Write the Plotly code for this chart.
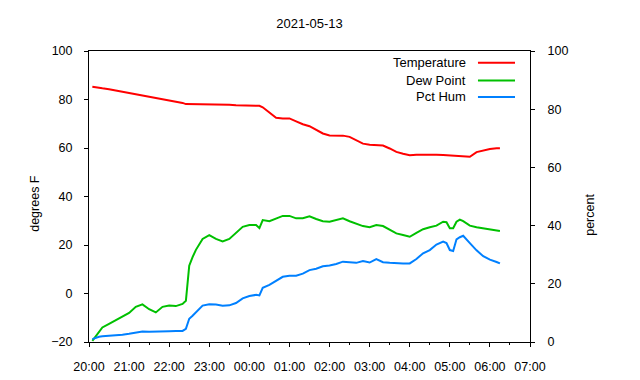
import plotly.graph_objects as go
from datetime import datetime, timedelta

# minutes after 2021-05-13 20:00
minutes = [5, 10, 15, 20, 30, 40, 50, 60, 70, 80, 90, 100, 110, 120, 130, 140, 145, 150, 155, 160,
           170, 180, 190, 200, 210, 220, 230, 240, 250, 255, 260, 270, 280, 290, 300, 310, 320, 330,
           340, 350, 360, 370, 380, 390, 400, 410, 420, 430, 440, 450, 460, 470, 480, 490, 500, 510,
           520, 530, 535, 540, 545, 550, 555, 560, 570, 580, 590, 600, 610, 615]

temperature = [85.3, 85.0, 84.8, 84.6, 84.2, 83.7, 83.2, 82.8, 82.3, 81.8, 81.4, 80.8, 80.3, 79.8,
               79.3, 78.6, 78.1, 78.1, 78.1, 78.1, 78.1, 78.1, 78.1, 78.1, 77.8, 77.6, 77.6, 77.6,
               77.5, 77.4, 76.8, 74.5, 72.5, 72.2, 72.2, 71.0, 69.8, 69.0, 67.5, 66.0, 65.2, 65.1,
               65.1, 64.6, 63.2, 61.8, 61.3, 61.1, 61.0, 59.8, 58.4, 57.6, 57.0, 57.2, 57.3, 57.4,
               57.2, 57.1, 57.0, 57.0, 57.0, 56.8, 56.8, 56.6, 56.4, 58.3, 59.0, 59.6, 59.9, 59.9]

dew_point = [-19.5, -17.5, -15.5, -14.0, -12.5, -11.0, -9.5, -8.0, -5.5, -4.5, -6.5, -7.8, -5.5, -5.0,
             -5.2, -4.3, -3.0, 11.5, 15.0, 18.0, 22.5, 24.1, 22.5, 21.5, 22.5, 25.0, 27.5, 28.2,
             28.2, 27.0, 30.3, 29.8, 30.8, 32.0, 32.0, 31.0, 31.0, 31.8, 30.7, 29.8, 29.6, 30.2,
             31.0, 29.8, 28.7, 27.8, 27.3, 28.2, 27.8, 26.2, 24.8, 24.1, 23.4, 25.0, 26.5, 27.3,
             28.0, 29.6, 29.4, 26.9, 26.9, 29.6, 30.5, 29.8, 28.0, 27.3, 26.8, 26.3, 26.0, 25.8]

pct_hum = [1.0, 1.5, 1.8, 2.0, 2.1, 2.3, 2.5, 2.8, 3.2, 3.6, 3.5, 3.5, 3.6, 3.7, 3.8, 3.8, 4.5, 8.0,
           9.0, 10.2, 12.5, 13.0, 12.9, 12.5, 12.6, 13.4, 15.0, 15.8, 16.2, 16.0, 18.6, 19.6, 21.0,
           22.4, 22.8, 22.8, 23.5, 24.7, 25.2, 26.0, 26.3, 26.8, 27.6, 27.5, 27.2, 27.8, 27.3, 28.5,
           27.4, 27.2, 27.0, 27.0, 27.0, 28.5, 30.5, 31.6, 33.5, 34.5, 34.0, 31.6, 31.3, 35.3, 36.0,
           36.5, 34.0, 31.5, 29.5, 28.3, 27.5, 27.0]

series_names = ["Temperature", "Dew Point", "Pct Hum"]
series_colors = ["#ff0000", "#00c000", "#0080ff"]

start = datetime(2021, 5, 13, 20, 0)
times = [start + timedelta(minutes=m) for m in minutes]

FONT = "Liberation Sans, Arial, sans-serif"

fig = go.Figure()
fig.add_trace(go.Scatter(x=times, y=temperature, mode="lines", name=series_names[0],
                         line=dict(color=series_colors[0], width=2), yaxis="y"))
fig.add_trace(go.Scatter(x=times, y=dew_point, mode="lines", name=series_names[1],
                         line=dict(color=series_colors[1], width=2), yaxis="y"))
fig.add_trace(go.Scatter(x=times, y=pct_hum, mode="lines", name=series_names[2],
                         line=dict(color=series_colors[2], width=2), yaxis="y2"))

# manual legend (text on the left, line sample on the right, like gnuplot)
leg_y = [0.960, 0.899, 0.842]
annotations = []
shapes = []
for name, color, yy in zip(series_names, series_colors, leg_y):
    annotations.append(dict(text=name, xref="paper", yref="paper", x=0.859, y=yy,
                            xanchor="right", yanchor="middle", showarrow=False,
                            font=dict(size=13, color="#000000", family=FONT)))
    shapes.append(dict(type="line", xref="paper", yref="paper", x0=0.882, x1=0.966,
                       y0=yy, y1=yy, line=dict(color=color, width=2)))

annotations.append(dict(text="degrees F", xref="paper", yref="paper", x=-0.1224, y=0.475,
                        textangle=-90, showarrow=False, xanchor="center", yanchor="middle",
                        font=dict(size=12.5, color="#000000", family=FONT)))
annotations.append(dict(text="percent", xref="paper", yref="paper", x=1.136, y=0.437,
                        textangle=-90, showarrow=False, xanchor="center", yanchor="middle",
                        font=dict(size=12.5, color="#000000", family=FONT)))

# page has an 8px body margin, so the figure is sized/placed to compensate
fig.update_layout(
    width=632, height=372,
    margin=dict(l=81, r=110, t=43, b=38, autoexpand=False),
    paper_bgcolor="#ffffff", plot_bgcolor="#ffffff",
    showlegend=False,
    font=dict(family=FONT, size=12.5, color="#000000"),
    title=dict(text="2021-05-13", x=0.5, xref="paper", y=1 - 15 / 372, yref="container",
               xanchor="center", yanchor="middle", font=dict(size=13, family=FONT)),
    xaxis=dict(type="date", range=[datetime(2021, 5, 13, 20, 0), datetime(2021, 5, 14, 7, 0)],
               dtick=3600000, tick0=datetime(2021, 5, 13, 20, 0), tickformat="%H:%M",
               ticks="outside", ticklen=4, tickcolor="#000000", showgrid=False, zeroline=False,
               showline=True, linecolor="#000000", linewidth=1, mirror=True, automargin=False,
               minor=dict(dtick=1800000, ticks="outside", ticklen=2, tickcolor="#000000"),
               tickfont=dict(size=12.5, family=FONT), ticklabelstandoff=9),
    yaxis=dict(range=[-20, 100], dtick=20, ticks="outside", ticklen=4, tickcolor="#000000",
               showgrid=False, zeroline=False, showline=True, linecolor="#000000", linewidth=1,
               mirror=False, automargin=False, tickfont=dict(size=12.5, family=FONT),
               ticklabelstandoff=9),
    yaxis2=dict(range=[0, 100], dtick=20, overlaying="y", side="right", ticks="outside",
                ticklen=4, tickcolor="#000000", showgrid=False, zeroline=False, showline=True,
                linecolor="#000000", linewidth=1, automargin=False,
                tickfont=dict(size=12.5, family=FONT), ticklabelstandoff=10),
    annotations=annotations,
    shapes=shapes,
)

fig.write_html("out.html")
